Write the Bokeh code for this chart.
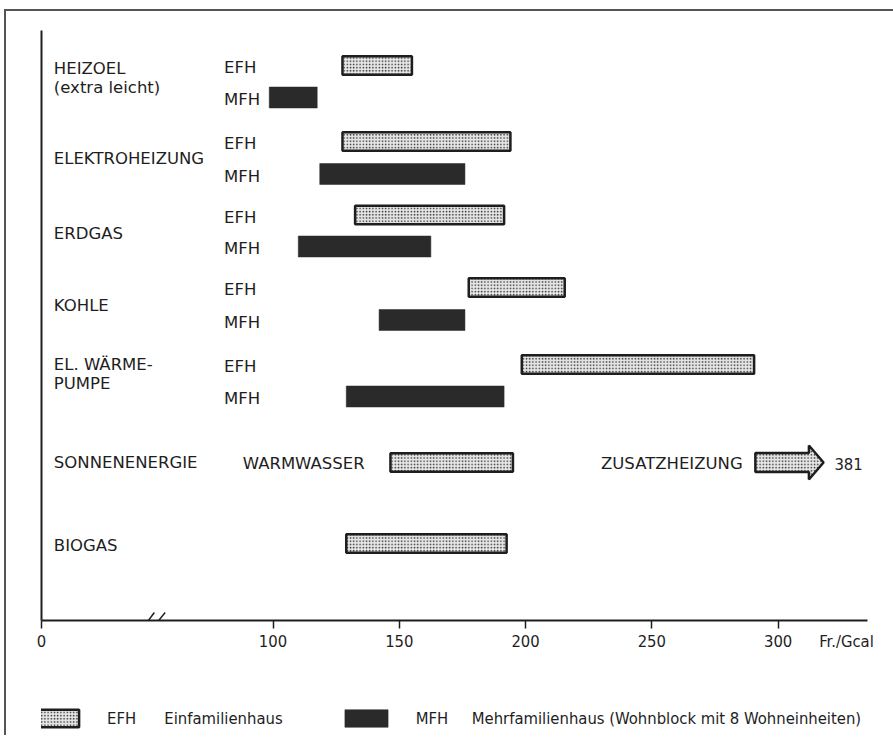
from bokeh.plotting import figure
from bokeh.layouts import column
from bokeh.models import Range1d, FixedTicker, Legend, LegendItem, LinearAxis, ColumnDataSource
from bokeh.core.properties import value
from bokeh.embed import file_html
from bokeh.resources import INLINE

# ---------------- data (Fr./Gcal) ----------------
energy_groups = ["HEIZOEL", "ELEKTROHEIZUNG", "ERDGAS", "KOHLE", "EL. WÄRMEPUMPE"]
efh_low = [127.5, 127.5, 132.5, 177.5, 198.5]
efh_high = [155.0, 194.0, 191.5, 215.5, 290.5]
mfh_low = [98.5, 118.5, 110.0, 142.0, 129.0]
mfh_high = [117.5, 176.0, 162.5, 176.0, 191.5]
warmwasser = [146.5, 195.0]
zusatzheizung = [291.0, 381.0]
biogas = [129.0, 192.5]
tick_values = [0, 100, 150, 200, 250, 300]
tick_labels = ["0", "100", "150", "200", "250", "300"]
unit_label = "Fr./Gcal"

# ---------------- layout ----------------
AXIS_START = 8.32        # broken axis: where "0" is shown
AXIS_END = 335.4
UNIT_POS = 327.1
ARROW_TIP = 318.0        # arrow is cut at the chart edge
EFH_Y = [65, 141, 214.5, 287, 364]
MFH_Y = [97, 173.5, 246, 319.5, 396]
SONNE_Y = 462
BIOGAS_Y = 543

GROUP_FONT = value("DejaVu Sans")
NARROW = "DejaVu Sans Condensed"
INK = "#1e1e1e"
DARK = "#2a2a2a"
STIPPLE = dict(fill_color="#e6e6e6", hatch_pattern="dot", hatch_color="#2a2a2a",
               hatch_scale=3.2, hatch_weight=1.1, line_color=INK, line_width=2.5)

p = figure(width=877, height=679, output_backend="svg", toolbar_location=None,
           x_range=Range1d(AXIS_START, AXIS_END), y_range=Range1d(620, 30),
           x_axis_location=None, y_axis_location=None,
           min_border_left=35, min_border_right=16, min_border_top=19, min_border_bottom=70,
           outline_line_color=None, background_fill_color="white", border_fill_color="white")
p.xgrid.visible = False
p.ygrid.visible = False

# x axis: line, ticks and numbers
ticks_pos = [AXIS_START] + tick_values[1:]
ax_x = LinearAxis(ticker=FixedTicker(ticks=ticks_pos), axis_line_width=2, axis_line_color=INK,
                  major_tick_line_color=INK, major_tick_line_width=1.5, major_tick_out=8,
                  major_tick_in=0, minor_tick_line_color=None, major_label_standoff=6,
                  major_label_text_font=NARROW, major_label_text_font_size="16.5px",
                  major_label_text_color=INK,
                  major_label_overrides={AXIS_START: tick_labels[0]})
p.add_layout(ax_x, "below")
# unit, on the same row as the numbers
ax_unit = LinearAxis(ticker=FixedTicker(ticks=[UNIT_POS]), axis_line_color=None,
                     major_tick_line_color=None, major_tick_out=0, major_tick_in=0,
                     minor_tick_line_color=None, major_label_standoff=-18,
                     major_label_text_font=NARROW, major_label_text_font_size="16.5px",
                     major_label_text_color=INK,
                     major_label_overrides={UNIT_POS: unit_label})
p.add_layout(ax_unit, "below")
# y axis: plain line
ax_y = LinearAxis(ticker=FixedTicker(ticks=[]), axis_line_width=2, axis_line_color=INK,
                  major_tick_line_color=None, minor_tick_line_color=None, major_label_standoff=0)
p.add_layout(ax_y, "left")

# axis break marks
p.segment(x0=[48.9, 52.8], y0=[626, 626], x1=[53.0, 57.3], y1=[612, 612],
          line_color=INK, line_width=1.5)

# bars
efh_src = ColumnDataSource(dict(y=EFH_Y, left=efh_low, right=efh_high))
p.hbar(y="y", left="left", right="right", height=18.5, source=efh_src, **STIPPLE)
mfh_src = ColumnDataSource(dict(y=MFH_Y, left=mfh_low, right=mfh_high))
p.hbar(y="y", left="left", right="right", height=21, source=mfh_src,
       fill_color=DARK, line_color=DARK, line_width=0.5)
p.hbar(y=[SONNE_Y, BIOGAS_Y], left=[warmwasser[0], biogas[0]], right=[warmwasser[1], biogas[1]],
       height=18.5, **STIPPLE)

# Zusatzheizung arrow (value beyond the axis)
z0 = zusatzheizung[0]
head = ARROW_TIP - 5.8
p.patch(x=[z0, head, head, ARROW_TIP, head, head, z0],
        y=[SONNE_Y - 9.5, SONNE_Y - 9.5, SONNE_Y - 17, SONNE_Y, SONNE_Y + 17, SONNE_Y + 9.5, SONNE_Y + 9.5],
        **STIPPLE)

# texts
group_lines = ["HEIZOEL", "(extra leicht)", "ELEKTROHEIZUNG", "ERDGAS", "KOHLE",
               "EL. WÄRME-", "PUMPE", "SONNENENERGIE", "BIOGAS"]
group_line_y = [68, 87, 158, 233, 305, 364, 383, 462, 545]
p.text(x=[13.2] * len(group_lines), y=group_line_y, text=group_lines,
       text_font=GROUP_FONT, text_font_size="16.5px", text_color=INK,
       text_baseline="middle", text_align="left")
p.text(x=[80.6] * 10, y=[y + 2 for y in EFH_Y] + [y + 2 for y in MFH_Y],
       text=["EFH"] * 5 + ["MFH"] * 5,
       text_font=GROUP_FONT, text_font_size="16.5px", text_color=INK,
       text_baseline="middle", text_align="left")
p.text(x=[88.0], y=[SONNE_Y + 1], text=["WARMWASSER"], text_font=GROUP_FONT,
       text_font_size="16.5px", text_color=INK, text_baseline="middle", text_align="left")
p.text(x=[z0 - 5.0], y=[SONNE_Y + 1], text=["ZUSATZHEIZUNG"], text_font=GROUP_FONT,
       text_font_size="16.5px", text_color=INK, text_baseline="middle", text_align="right")
p.text(x=[ARROW_TIP + 4.3], y=[SONNE_Y + 1], text=[f"{zusatzheizung[1]:.0f}"], text_font=value(NARROW),
       text_font_size="16.5px", text_color=INK, text_baseline="middle", text_align="left")

# legend strip
lg = figure(width=877, height=45, output_backend="svg", toolbar_location=None,
            x_range=Range1d(0, 1), y_range=Range1d(0, 1),
            x_axis_location=None, y_axis_location=None,
            min_border_left=0, min_border_right=0, min_border_top=0, min_border_bottom=0,
            outline_line_color=None, background_fill_color="white", border_fill_color="white")
lg.xgrid.visible = False
lg.ygrid.visible = False
# key glyphs are not shown themselves; only their legend swatches are drawn
efh_key = lg.hbar(y=[0.5], left=[0.4], right=[0.6], height=0.2, visible=False, **STIPPLE)
mfh_key = lg.hbar(y=[0.5], left=[0.4], right=[0.6], height=0.2, visible=False,
                  fill_color=DARK, line_color=DARK, line_width=0.5)
legend = Legend(items=[
    LegendItem(label="EFH" + "\u00a0" * 6 + "Einfamilienhaus", renderers=[efh_key]),
    LegendItem(label="MFH" + "\u00a0" * 5 + "Mehrfamilienhaus (Wohnblock mit 8 Wohneinheiten)", renderers=[mfh_key]),
], orientation="horizontal", location=(-11, 6), glyph_width=54, glyph_height=22,
    label_standoff=23, spacing=56, padding=0, margin=0, border_line_color=None,
    background_fill_alpha=0, label_text_font=NARROW,
    label_text_font_size="16.5px", label_text_color=INK, label_height=22)
lg.add_layout(legend)

page = column(p, lg, spacing=0)
page.styles = {"border-left": "2px solid #555", "border-top": "2px solid #555",
               "border-right": "0px none transparent", "border-bottom": "0px none transparent",
               "margin-left": "4px", "margin-top": "9px", "padding-right": "14px"}

open("out.html", "w").write(file_html(page, INLINE))
